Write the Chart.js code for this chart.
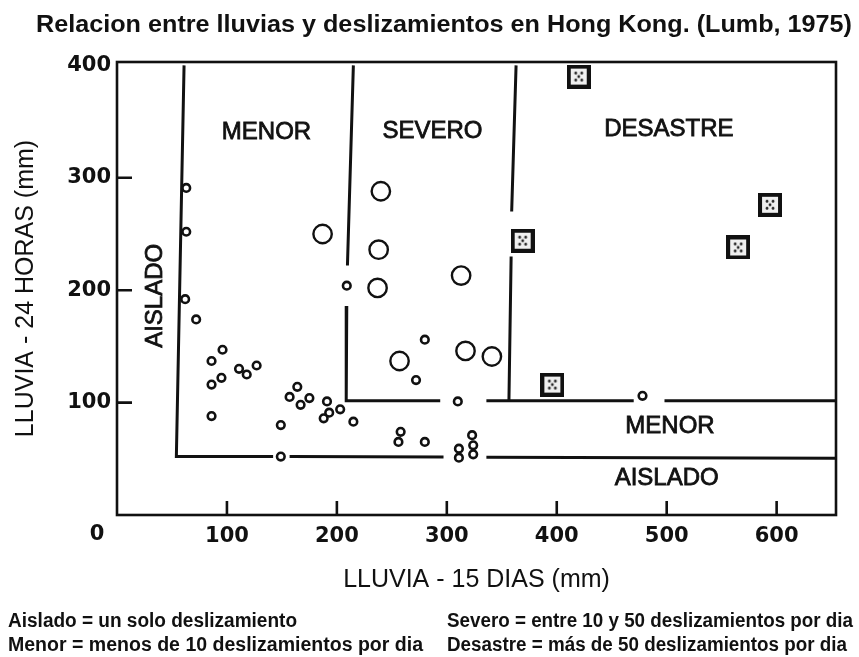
<!DOCTYPE html>
<html>
<head>
<meta charset="utf-8">
<script src="https://cdn.jsdelivr.net/npm/chart.js@4.4.0/dist/chart.umd.min.js"></script>
<style>
  html, body { margin: 0; padding: 0; background: #fff; }
</style>
</head>
<body>
<canvas id="chart" width="859" height="657"></canvas>
<script>
// Lluvia 15 dias (x) y lluvia 24 horas (y), en mm
const menoresX = [63, 63, 62, 72, 86, 96, 86, 95, 86, 111, 118, 127, 149, 149, 157, 164, 167, 175,
                  191, 193, 188, 203, 215, 209, 280, 272, 310, 478, 258, 256, 280, 323, 324, 311, 324, 311];
const menoresY = [291, 252, 192, 174, 137, 147, 116, 122, 88, 130, 125, 133, 80, 52, 105, 114, 98, 104,
                  101, 91, 86, 94, 83, 204, 156, 120, 101, 106, 74, 65, 65, 71, 62, 59, 54, 51];

const severosX = [187, 240, 238, 237, 313, 257, 317, 341];
const severosY = [250, 288, 236, 202, 213, 137, 146, 141];

const desastresX = [420, 369, 396, 565, 594];
const desastresY = [390, 244, 116, 238, 276];

// limites entre zonas (null = hueco donde cae un punto)
const limAisladoX = [61, 54, 142, 149, 157, 297, 316, 336, 654];
const limAisladoY = [400, 52, 52, null, 52, 51.5, null, 51.3, 50.5];
const limMenorX = [215, 209.6, 209, 209, 208.5, 294, 315, 336, 470, 484, 498, 654];
const limMenorY = [400, 222, null, 186, 101.6, 101.6, null, 101.6, 101.6, null, 101.6, 101.6];
const limSeveroX = [363, 359, 358.7, 358.5, 356.5];
const limSeveroY = [400, 270, null, 230, 101.6];

const xTicks = [100, 200, 300, 400, 500, 600];
const yTicks = [100, 200, 300, 400];

// rotulos de zona (anclados en coordenadas de datos)
const zonaTextos = ['MENOR', 'SEVERO', 'DESASTRE', 'AISLADO', 'MENOR', 'AISLADO'];
const zonaX = [136, 287, 502, 35, 503, 500];
const zonaY = [340, 341, 343, 195, 79, 33];
const zonaVertical = [false, false, false, true, false, false];

const titulo = 'Relacion entre lluvias y deslizamientos en Hong Kong. (Lumb, 1975)';
const notas = [
    'Aislado = un solo deslizamiento',
    'Menor = menos de 10 deslizamientos por dia',
    'Severo = entre 10 y 50 deslizamientos por dia',
    'Desastre = más de 50 deslizamientos por dia'
];

function toPoints(xs, ys) {
    return xs.map((x, i) => ({ x: x, y: ys[i] }));
}

// cuadrado punteado para los desastres
function makeSquare() {
    const c = document.createElement('canvas');
    c.width = 24;
    c.height = 24;
    const g = c.getContext('2d');
    g.fillStyle = '#111';
    g.fillRect(0, 0, 24, 24);
    g.fillStyle = '#f0f0f0';
    g.fillRect(4, 4, 16, 16);
    g.fillStyle = '#222';
    [[9, 8.5], [15, 8.5], [12, 12], [9, 15.5], [15, 15.5]].forEach(([x, y]) => {
        g.beginPath();
        g.arc(x, y, 1.4, 0, Math.PI * 2);
        g.fill();
    });
    return c;
}

// texto ajustado a un ancho dado (letra algo condensada como el original)
function fitText(ctx, text, x, y, width) {
    const w = ctx.measureText(text).width;
    ctx.save();
    ctx.translate(x, y);
    ctx.scale(width / w, 1);
    ctx.fillText(text, 0, 0);
    ctx.restore();
}

const decorPlugin = {
    id: 'decor',
    beforeDatasetsDraw(chart) {
        const { ctx, chartArea: a, scales } = chart;
        ctx.save();
        ctx.strokeStyle = '#111';
        ctx.lineWidth = 2.6;
        ctx.strokeRect(a.left, a.top, a.right - a.left, a.bottom - a.top);
        ctx.beginPath();
        xTicks.forEach(v => {
            const px = scales.x.getPixelForValue(v);
            ctx.moveTo(px, a.bottom);
            ctx.lineTo(px, a.bottom - 14);
        });
        yTicks.forEach(v => {
            if (v >= 400) return;
            const py = scales.y.getPixelForValue(v);
            ctx.moveTo(a.left, py);
            ctx.lineTo(a.left + 15, py);
        });
        ctx.stroke();
        ctx.restore();
    },
    afterDraw(chart) {
        const { ctx, chartArea: a, scales } = chart;
        ctx.save();
        ctx.fillStyle = '#111';
        ctx.strokeStyle = '#111';

        // rotulos de las zonas
        ctx.font = '24px "Liberation Sans", Arial, sans-serif';
        ctx.textAlign = 'center';
        ctx.textBaseline = 'middle';
        ctx.lineWidth = 0.8;
        zonaTextos.forEach((t, i) => {
            const px = scales.x.getPixelForValue(zonaX[i]);
            const py = scales.y.getPixelForValue(zonaY[i]);
            ctx.save();
            ctx.translate(px, py);
            if (zonaVertical[i]) ctx.rotate(-Math.PI / 2);
            ctx.fillText(t, 0, 0);
            ctx.strokeText(t, 0, 0);
            ctx.restore();
        });

        // origen
        ctx.font = 'bold 21px "DejaVu Sans", sans-serif';
        ctx.fillText('0', a.left - 20, 535);

        // titulo
        ctx.textAlign = 'left';
        ctx.textBaseline = 'alphabetic';
        ctx.font = 'bold 23px "Liberation Sans", Arial, sans-serif';
        fitText(ctx, titulo, 36, 32, 816);

        // notas al pie
        ctx.font = 'bold 20px "Liberation Sans", Arial, sans-serif';
        fitText(ctx, notas[0], 8, 627, 289);
        fitText(ctx, notas[1], 8, 651, 415);
        fitText(ctx, notas[2], 447, 627, 406);
        fitText(ctx, notas[3], 447, 651, 400);
        ctx.restore();
    }
};

const lineStyle = {
    type: 'line',
    borderColor: '#111',
    borderWidth: 3,
    pointRadius: 0,
    fill: false,
    spanGaps: false,
    tension: 0,
    order: 3
};

new Chart(document.getElementById('chart'), {
    type: 'scatter',
    data: {
        datasets: [
            {
                label: 'Aislado / Menor',
                data: toPoints(menoresX, menoresY),
                pointStyle: 'circle',
                pointRadius: 3.8,
                borderWidth: 2.6,
                borderColor: '#111',
                backgroundColor: '#fff',
                order: 1
            },
            {
                label: 'Severo',
                data: toPoints(severosX, severosY),
                pointStyle: 'circle',
                pointRadius: 9.2,
                borderWidth: 2.4,
                borderColor: '#111',
                backgroundColor: '#fff',
                order: 1
            },
            {
                label: 'Desastre',
                data: toPoints(desastresX, desastresY),
                pointStyle: makeSquare(),
                pointRadius: 12,
                order: 1
            },
            Object.assign({ label: 'Limite aislado', data: toPoints(limAisladoX, limAisladoY) }, lineStyle),
            Object.assign({ label: 'Limite menor', data: toPoints(limMenorX, limMenorY) }, lineStyle),
            Object.assign({ label: 'Limite severo', data: toPoints(limSeveroX, limSeveroY) }, lineStyle)
        ]
    },
    options: {
        responsive: false,
        animation: false,
        events: [],
        layout: { padding: { top: 62, right: 23, left: 0, bottom: 0 } },
        plugins: {
            legend: { display: false },
            tooltip: { enabled: false },
            title: { display: false }
        },
        scales: {
            x: {
                type: 'linear',
                min: 0,
                max: 654,
                grid: { display: false, drawTicks: false },
                border: { display: false },
                afterBuildTicks: s => { s.ticks = xTicks.map(v => ({ value: v })); },
                afterFit: s => { s.height = 142; },
                ticks: {
                    color: '#111',
                    padding: 9,
                    maxRotation: 0,
                    font: { family: '"DejaVu Sans", sans-serif', size: 21, weight: 'bold' }
                },
                title: {
                    display: true,
                    text: 'LLUVIA - 15 DIAS (mm)',
                    color: '#111',
                    font: { family: '"Liberation Sans", Arial, sans-serif', size: 25 },
                    padding: { top: 4, bottom: 62 }
                }
            },
            y: {
                type: 'linear',
                min: 0,
                max: 403,
                grid: { display: false, drawTicks: false },
                border: { display: false },
                afterBuildTicks: s => { s.ticks = yTicks.map(v => ({ value: v })); },
                afterFit: s => { s.width = 117; },
                ticks: {
                    color: '#111',
                    padding: 6,
                    font: { family: '"DejaVu Sans", sans-serif', size: 21, weight: 'bold' }
                },
                title: {
                    display: true,
                    text: 'LLUVIA - 24 HORAS (mm)',
                    color: '#111',
                    font: { family: '"Liberation Sans", Arial, sans-serif', size: 25 },
                    padding: { top: 11, bottom: 0 }
                }
            }
        }
    },
    plugins: [decorPlugin]
});
</script>
</body>
</html>
